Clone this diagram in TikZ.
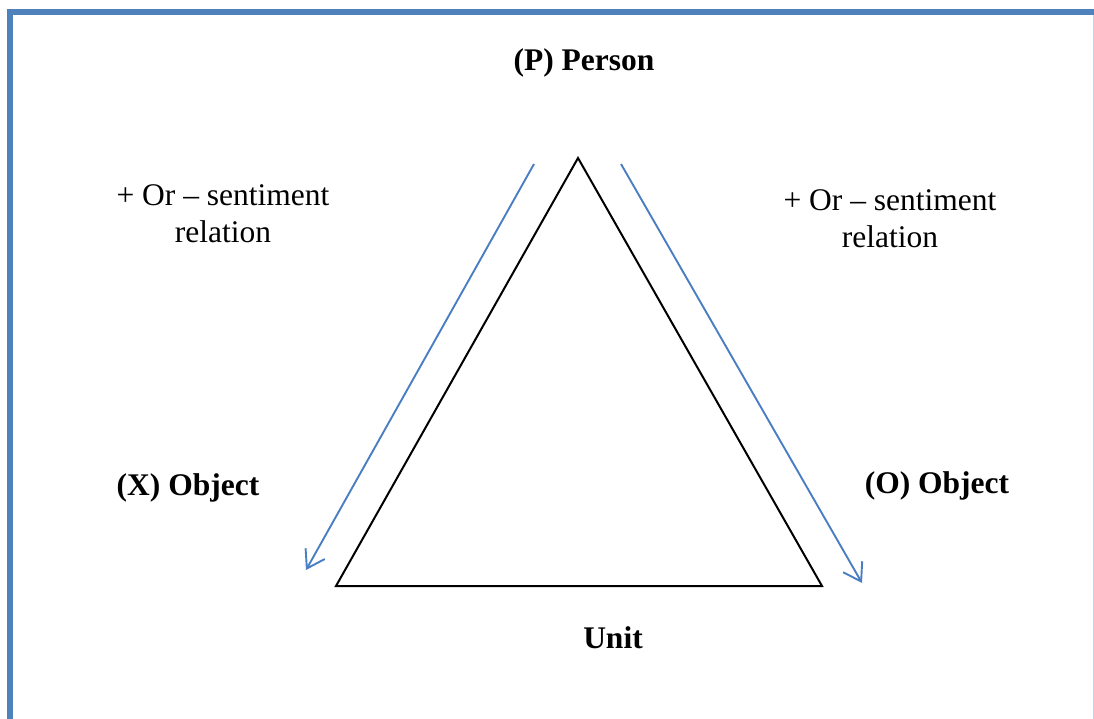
\documentclass[tikz,border=0pt]{standalone}
\usepackage{fontspec}
\setmainfont{Liberation Serif}
\usetikzlibrary{arrows.meta}
\definecolor{bord}{HTML}{4F81BD}
\definecolor{arr}{HTML}{4A7EC2}
\tikzset{
  lbl/.style={font=\fontsize{31.5}{37}\selectfont, align=center, inner sep=0pt},
  blbl/.style={lbl, font=\fontsize{31.5}{37}\selectfont\bfseries},
  tri/.style={draw=black, line width=2pt, line join=miter},
  rel/.style={draw=arr, line width=1.9pt, -{Straight Barb[length=17pt,width=22pt,line width=1.9pt]}}
}
\begin{document}
\begin{tikzpicture}[x=1pt,y=-1pt]
\useasboundingbox (0,0) rectangle (1094,719);
% frame
\draw[bord, line width=5.5pt] (9.75,719) -- (9.75,12) -- (1094,12);
\draw[bord!35, line width=1pt] (1093.5,15) -- (1093.5,719);
% triangle
\coordinate (P) at (578,158);
\coordinate (X) at (336,586);
\coordinate (O) at (822,586);
\draw[tri] (P) -- (X) -- (O) -- cycle;
% arrows
\coordinate (a1s) at (534,164);
\coordinate (a1e) at (306,570);
\coordinate (a2s) at (621,164);
\coordinate (a2e) at (862,583);
\draw[rel] (a1s) -- (a1e);
\draw[rel] (a2s) -- (a2e);
% labels
\node[blbl] (tp) at (584,63) {(P) Person};
\node[lbl] (tl) at (223,214) {+ Or -- sentiment\\relation};
\node[lbl] (tr) at (890,219) {+ Or -- sentiment\\relation};
\node[blbl] (tx) at (188,488) {(X) Object};
\node[blbl] (to) at (937,486) {(O) Object};
\node[blbl] (tu) at (613,638) {Unit};
\end{tikzpicture}
\end{document}
